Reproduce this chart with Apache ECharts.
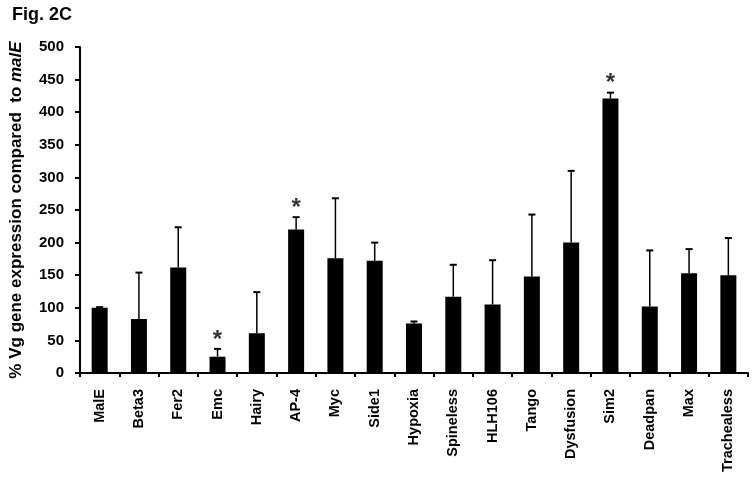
<!DOCTYPE html>
<html>
<head>
<meta charset="utf-8">
<script src="https://cdn.jsdelivr.net/npm/echarts@6/dist/echarts.min.js"></script>
<style>html,body{margin:0;padding:0;background:#fff;}#c{width:753px;height:481px;}</style>
</head>
<body>
<div id="c"></div>
<script>
const categories = ['MalE','Beta3','Fer2','Emc','Hairy','AP-4','Myc','Side1','Hypoxia','Spineless','HLH106','Tango','Dysfusion','Sim2','Deadpan','Max','Trachealess'];
const values =     [100, 83, 162, 25, 61, 220, 176, 172, 76, 117, 105, 148, 200, 421, 102, 153, 150];
const errorTops =  [101, 154, 223.5, 37, 124, 239, 268, 200, 79, 166, 173, 243, 310, 430, 188, 190, 207];
const starred =    ['Emc','AP-4','Sim2'];
const yTicks = [0, 50, 100, 150, 200, 250, 300, 350, 400, 450, 500];

const FONT = '"Liberation Sans", Arial, sans-serif';
const chart = echarts.init(document.getElementById('c'), null, {renderer: 'canvas'});

const errData = categories.map((c, i) => [i, values[i], errorTops[i]]);
const starData = categories.map((c, i) => starred.includes(c) ? [i, errorTops[i]] : null).filter(d => d);

chart.setOption({
  animation: false,
  title: {
    text: 'Fig. 2C', left: 7, top: 1,
    textStyle: {fontFamily: FONT, fontWeight: 'bold', fontSize: 18, color: '#000'}
  },
  grid: {left: 80, right: 5, top: 47, bottom: 108, containLabel: false},
  xAxis: {
    type: 'category', data: categories,
    axisLine: {lineStyle: {color: '#000', width: 2}},
    axisTick: {show: true, inside: false, length: 4, alignWithLabel: false, lineStyle: {color: '#000', width: 2}},
    axisLabel: {rotate: 90, interval: 0, margin: 16, fontFamily: FONT, fontWeight: 'bold', fontSize: 14.5, color: '#000'}
  },
  yAxis: {
    type: 'value', min: 0, max: 500, interval: 50,
    splitLine: {show: false},
    axisLine: {show: true, lineStyle: {color: '#000', width: 2}},
    axisTick: {show: true, length: 5, lineStyle: {color: '#000', width: 2}},
    axisLabel: {margin: 16, fontFamily: FONT, fontWeight: 'bold', fontSize: 15, color: '#000',
      formatter: v => yTicks.includes(v) ? String(v) : ''},
    name: '{n|% Vg gene expression compared  to }{i|malE}',
    nameLocation: 'middle', nameGap: 55, nameRotate: 90,
    nameTextStyle: {
      rich: {
        n: {fontFamily: FONT, fontWeight: 'bold', fontSize: 17, color: '#000'},
        i: {fontFamily: FONT, fontWeight: 'bold', fontStyle: 'italic', fontSize: 17, color: '#000'}
      }
    }
  },
  series: [
    {
      type: 'bar', data: values, barWidth: 16,
      itemStyle: {color: '#000'}, z: 2
    },
    {
      type: 'custom', data: errData, z: 3,
      renderItem: function (params, api) {
        const x = api.value(0);
        const p0 = api.coord([x, api.value(1)]);
        const p1 = api.coord([x, api.value(2)]);
        const hw = 3.5;
        return {
          type: 'group',
          children: [
            {type: 'line', shape: {x1: p0[0], y1: p0[1], x2: p1[0], y2: p1[1]}, style: {stroke: '#000', lineWidth: 1.5}},
            {type: 'line', shape: {x1: p1[0] - hw, y1: p1[1], x2: p1[0] + hw, y2: p1[1]}, style: {stroke: '#000', lineWidth: 2}}
          ]
        };
      }
    },
    {
      type: 'scatter', data: starData, symbolSize: 0, z: 4,
      label: {show: true, position: 'top', distance: -3, formatter: '*',
        fontFamily: FONT, fontWeight: 'bold', fontSize: 24, color: '#000'}
    }
  ]
});
</script>
</body>
</html>
